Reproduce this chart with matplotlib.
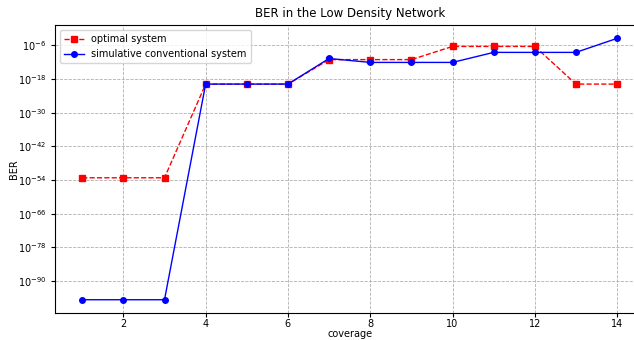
import numpy as np
import matplotlib
matplotlib.use('Agg')
import matplotlib.pyplot as plt
from matplotlib import ticker

# cobertura (nodos) vs BER
coverage = [1, 2, 3, 4, 5, 6, 7, 8, 9, 10, 11, 12, 13, 14]
ber_optimo = [6e-54, 6e-54, 6e-54, 1.5e-20, 1.5e-20, 1.5e-20, 8e-12, 8e-12, 8e-12,
              4e-7, 4e-7, 4e-7, 1.5e-20, 1.5e-20]
ber_simulado = [2e-97, 2e-97, 2e-97, 1.5e-20, 1.5e-20, 1.5e-20, 2e-11, 8e-13, 8e-13,
                8e-13, 3e-9, 3e-9, 3e-9, 3e-4]
ytics = [1e-90, 1e-78, 1e-66, 1e-54, 1e-42, 1e-30, 1e-18, 1e-6]

plt.rcParams['font.size'] = 7

fig = plt.figure(figsize=(6.34, 3.4), dpi=100)
ax = fig.add_axes([0.0875, 0.080, 0.928, 0.8456])

ax.plot(coverage, ber_optimo, 'rs--', markersize=4, linewidth=1, label='optimal system')
ax.plot(coverage, ber_simulado, 'bo-', markersize=4, linewidth=1,
        label='simulative conventional system')
ax.set_yscale('log')
ax.yaxis.set_major_locator(ticker.FixedLocator(ytics))
ax.yaxis.set_minor_locator(ticker.NullLocator())
ax.set_xticks([2, 4, 6, 8, 10, 12, 14])
ax.tick_params(axis='x', pad=1.5, length=3)
ax.tick_params(axis='y', length=3)

ax.grid(True, linestyle='--', color='#b0b0b0', linewidth=0.6)
ax.set_title('BER in the Low Density Network', fontsize=8.5)
ax.set_xlabel('coverage', labelpad=0)
ax.set_ylabel('BER', labelpad=-1)
ax.legend(loc='upper left')

fig.savefig('out.png', dpi=100)
